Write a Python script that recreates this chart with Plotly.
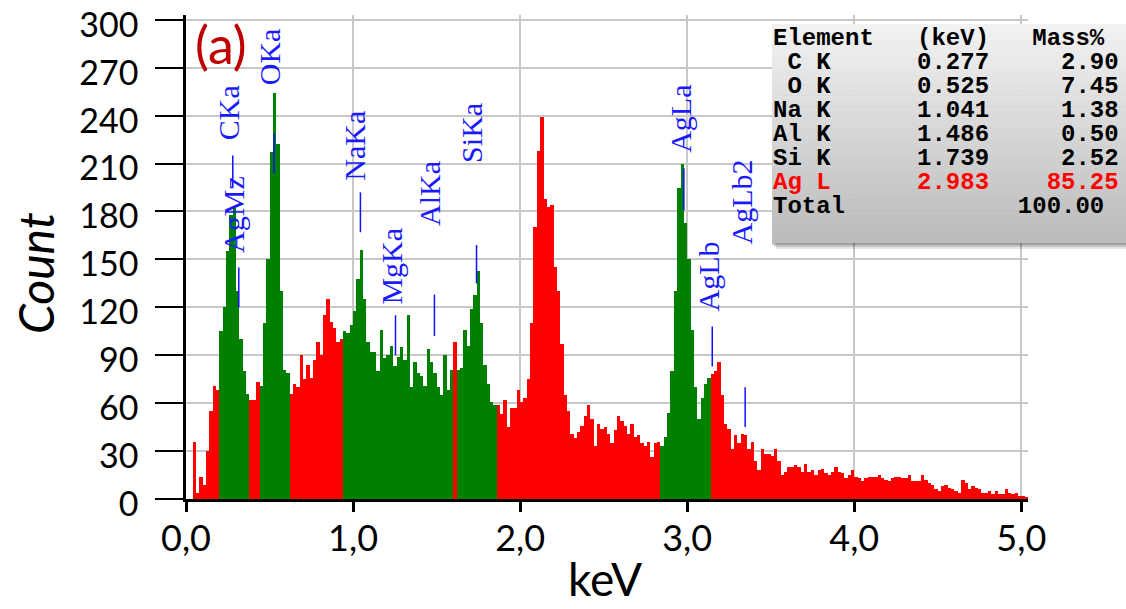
import plotly.graph_objects as go

# ---------------- data ----------------
BIN_WIDTH = 0.02  # keV per channel (as drawn)
counts = [
    # 0.00 - 0.18
    0, 0, 36, 4, 14, 9, 30, 55, 71, 68,
    # 0.20 - 0.36 (C Ka / Ag Mz)
    105, 120, 155, 178, 182, 130, 100, 80, 66,
    # 0.38 - 0.42
    62, 62, 73,
    # 0.44 - 0.60 (O Ka)
    71, 110, 150, 217, 254, 222, 130, 81, 79,
    # 0.62 - 0.92
    66, 72, 70, 90, 75, 84, 76, 87, 98, 90, 115, 125, 111, 107, 98, 100,
    # 0.94 - 1.58 (Na, Mg, Al)
    105, 104, 109, 118, 138, 156, 125, 98, 92, 92, 80, 106, 88, 90, 96, 83,
    89, 95, 87, 115, 70, 86, 79, 77, 71, 94, 86, 79, 70, 65, 90, 68, 81,
    # 1.60
    98,
    # 1.62 - 1.84 (Si Ka)
    81, 82, 106, 96, 119, 128, 143, 110, 84, 72, 61, 59,
    # 1.86 - 2.82
    59, 53, 62, 45, 57, 57, 68, 61, 63, 75, 110, 170, 218, 239, 188, 183,
    184, 145, 130, 97, 65, 55, 41, 38, 42, 46, 52, 59, 50, 33, 47, 44, 45,
    41, 35, 43, 52, 49, 46, 41, 47, 39, 40, 35, 33, 36, 26, 35, 36,
    # 2.84 - 3.12 (Ag La / Lb)
    33, 39, 54, 80, 130, 195, 210, 173, 150, 106, 70, 50, 63, 72, 76,
    # 3.14 - 3.98
    78, 80, 86, 65, 47, 44, 31, 40, 35, 41, 40, 31, 36, 24, 18, 31, 28, 28,
    27, 31, 24, 15, 17, 20, 20, 21, 20, 17, 22, 17, 18, 15, 18, 19, 16, 15,
    17, 20, 17, 16, 13, 15, 18,
    # 4.00 - 5.02
    14, 13, 11, 13, 14, 14, 14, 15, 13, 12, 11, 13, 14, 14, 13, 13, 15, 11,
    11, 11, 15, 12, 10, 9, 6, 5, 8, 9, 7, 6, 5, 4, 12, 10, 6, 8, 7, 6, 4, 4,
    5, 3, 5, 3, 3, 6, 4, 3, 4, 2, 2, 1,
]
bin_start = [round(i * BIN_WIDTH, 2) for i in range(len(counts))]
bin_center = [round(b + BIN_WIDTH / 2, 3) for b in bin_start]

# regions of interest (green) in keV
roi_lo = [0.20, 0.44, 0.94, 1.62, 2.84]
roi_hi = [0.38, 0.62, 1.60, 1.86, 3.14]

# identified lines
line_names = ["CKa", "AgMz", "OKa", "NaKa", "MgKa", "AlKa", "SiKa", "AgLa", "AgLb", "AgLb2"]
line_kev = [0.280, 0.316, 0.527, 1.044, 1.254, 1.487, 1.739, 2.980, 3.150, 3.347]
line_lo = [195, 120, 204, 167, 90, 102, 135, 181, 83, 45]
line_hi = [215, 145, 229, 192, 115, 128, 159, 207, 108, 70]
label_kev = [0.256, 0.283, 0.501, 1.010, 1.232, 1.461, 1.710, 2.963, 3.128, 3.325]
label_cnt = [242, 178, 277, 221, 146, 191, 229, 238, 139, 186]

# quantification table
tbl_element = ["C K", "O K", "Na K", "Al K", "Si K", "Ag L"]
tbl_kev = ["0.277", "0.525", "1.041", "1.486", "1.739", "2.983"]
tbl_mass = ["2.90", "7.45", "1.38", "0.50", "2.52", "85.25"]
tbl_total = "100.00"

x_ticks = [0, 1, 2, 3, 4, 5]
x_ticktext = ["0,0", "1,0", "2,0", "3,0", "4,0", "5,0"]
Y_DTICK = 30
Y_MAX = 303

# ---------------- figure ----------------
W, H = 1126, 609
PIX_PER_COUNT = 1.597
PL, PR, PB = 186, 1028, 499
PT = round(PB - Y_MAX * PIX_PER_COUNT)


def px(x):
    return (x - PL) / (PR - PL)


def py(y):
    return (PB - y) / (PB - PT)


def in_roi(s):
    c = s + BIN_WIDTH / 2
    return any(lo <= c < hi for lo, hi in zip(roi_lo, roi_hi))


colors = ["#008000" if in_roi(s) else "#ff0000" for s in bin_start]

fig = go.Figure()
fig.add_trace(go.Bar(x=bin_center, y=counts, width=BIN_WIDTH,
                     marker=dict(color=colors, line=dict(width=0)),
                     hoverinfo="x+y"))

shapes = []
annotations = []

# element lines
for name, k, lo, hi, lk, lc in zip(line_names, line_kev, line_lo, line_hi, label_kev, label_cnt):
    shapes.append(dict(type="line", xref="x", yref="y", x0=k, x1=k, y0=lo, y1=hi,
                       line=dict(color="#1010ff", width=1.5)))
    annotations.append(dict(x=lk, y=lc, xref="x", yref="y", text=name, textangle=-90,
                            showarrow=False, xanchor="center", yanchor="middle",
                            font=dict(family="Liberation Serif", size=30, color="#1a1aff")))

# table box: shadow + vertical gradient
BX0, BX1, BY0, BY1 = 772, 1126, 24, 243
for off, a in [(6, 0.10), (4, 0.14), (2, 0.18)]:
    shapes.append(dict(type="rect", xref="paper", yref="paper", layer="above",
                       x0=px(BX0 + off - 2), x1=px(BX1 + off), y0=py(BY1 + off), y1=py(BY0 + off),
                       line=dict(width=0), fillcolor=f"rgba(0,0,0,{a})"))
NSTRIP = 40
for i in range(NSTRIP):
    t = i / (NSTRIP - 1)
    g = int(242 - t * (242 - 188))
    y0 = BY0 + (BY1 - BY0) * i / NSTRIP
    y1 = BY0 + (BY1 - BY0) * (i + 1) / NSTRIP + 0.6
    shapes.append(dict(type="rect", xref="paper", yref="paper", layer="above",
                       x0=px(BX0), x1=px(BX1), y0=py(min(y1, BY1)), y1=py(y0),
                       line=dict(width=0), fillcolor=f"rgb({g},{g},{g})"))

NB = "\u00a0"
rows = ["Element" + NB * 3 + "(keV)" + NB * 3 + "Mass%"]
for e, k, m in zip(tbl_element, tbl_kev, tbl_mass):
    rows.append(e.rjust(4).replace(" ", NB) + NB * 6 + k + NB * (9 - len(m)) + m)
rows.append("Total" + NB * 12 + tbl_total)
for i, r in enumerate(rows):
    col = "#ff0000" if r.startswith("Ag") else "#000000"
    annotations.append(dict(x=px(771), y=py(38.3 + 24 * i), xref="paper", yref="paper",
                            text=r, showarrow=False, xanchor="left", yanchor="middle",
                            font=dict(family="Liberation Mono", size=24, color=col, weight="bold")))

# panel label and axis titles
annotations.append(dict(x=px(221), y=py(44), xref="paper", yref="paper", text="(a)",
                        showarrow=False, xanchor="center", yanchor="middle",
                        font=dict(family="Lato", size=52, color="#c00000")))
annotations.append(dict(x=px(35), y=py(273), xref="paper", yref="paper", text="Count",
                        textangle=-90, showarrow=False, xanchor="center", yanchor="middle",
                        font=dict(family="Lato", size=48, color="#000000", style="italic")))
annotations.append(dict(x=px(605), y=py(578), xref="paper", yref="paper", text="keV",
                        showarrow=False, xanchor="center", yanchor="middle",
                        font=dict(family="Lato", size=46, color="#000000")))

fig.update_layout(
    width=W, height=H,
    margin=dict(l=PL, r=W - PR, t=PT, b=H - PB, autoexpand=False),
    paper_bgcolor="white", plot_bgcolor="white",
    showlegend=False, bargap=0,
    shapes=shapes, annotations=annotations,
    xaxis=dict(range=[0, 5.04], tickmode="array", tickvals=x_ticks, ticktext=x_ticktext,
               showgrid=True, gridcolor="#c8c8c8", gridwidth=1.5,
               showline=True, linecolor="black", linewidth=2.5,
               ticks="outside", ticklen=10, tickwidth=2.5, tickcolor="black",
               ticklabelstandoff=-4,
               tickfont=dict(family="Lato", size=36, color="black"), zeroline=False),
    yaxis=dict(range=[0, Y_MAX], autorange=False, tickmode="linear", tick0=0, dtick=Y_DTICK,
               showgrid=True, gridcolor="#c8c8c8", gridwidth=1.5,
               showline=True, linecolor="black", linewidth=2.5,
               ticks="outside", ticklen=28, tickwidth=2, tickcolor="black",
               ticklabelstandoff=10, ticklabelshift=5, ticklabeloverflow="allow",
               tickfont=dict(family="Lato", size=34, color="black"), zeroline=False),
)

fig.write_html("out.html", config={"displayModeBar": False},
               post_script="document.body.style.margin='0px';document.body.style.overflow='hidden';")
